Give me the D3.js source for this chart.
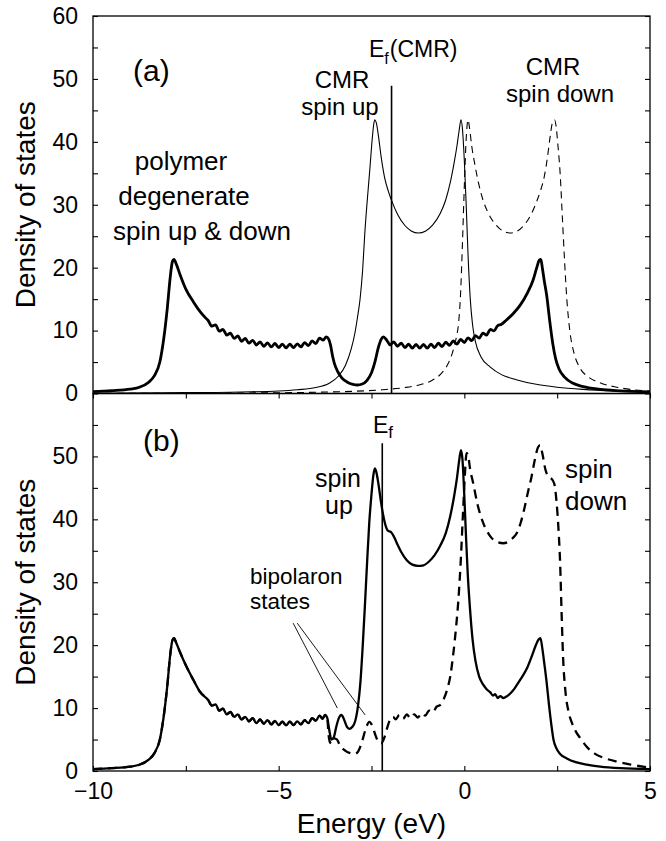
<!DOCTYPE html>
<html>
<head>
<meta charset="utf-8">
<script src="https://cdn.jsdelivr.net/npm/d3@7"></script>
<style>
  html, body { margin: 0; padding: 0; background: #fff; }
  svg text { font-family: "Liberation Sans", Arial, Helvetica, sans-serif; fill: #000; }
</style>
</head>
<body>
<svg id="chart" width="666" height="841"></svg>
<script>
// Energy axis (eV) and density-of-states axes
const energyTicks = [-10, -5, 0, 5];
const energyMinorTicks = [-10, -7.5, -5, -2.5, 0, 2.5, 5];
const dosTicksA = [0, 10, 20, 30, 40, 50, 60];
const dosTicksB = [0, 10, 20, 30, 40, 50];
const dosMinorTicks = [0, 5, 10, 15, 20, 25, 30, 35, 40, 45, 50, 55, 60];

// Fermi levels
const fermiA = -1.96;
const fermiB = -2.21;

// (a) polymer, spin degenerate: [energy, DOS]
const polymerDOS = [
  [-10,0.3],[-9.5,0.45],[-9,0.7],[-8.75,1.0],[-8.5,1.8],[-8.35,2.8],[-8.2,5.0],[-8.1,8.5],[-8.0,13.5],
  [-7.92,18.5],[-7.86,21.0],[-7.82,21.3],[-7.76,20.6],[-7.65,18.8],[-7.5,16.6],[-7.3,14.6],[-7.1,12.9],[-6.95,11.9],
  [-6.9,11.6],[-6.8,10.7],[-6.7,10.9],[-6.6,9.9],[-6.5,10.2],[-6.4,9.3],[-6.3,9.6],[-6.2,8.75],[-6.1,9.15],
  [-6.0,8.3],[-5.9,8.75],[-5.8,8.0],[-5.7,8.45],[-5.6,7.7],[-5.5,8.2],[-5.4,7.5],[-5.3,8.05],[-5.2,7.4],
  [-5.1,7.95],[-5.0,7.3],[-4.9,7.85],[-4.8,7.25],[-4.7,7.85],[-4.6,7.3],[-4.5,7.9],[-4.4,7.4],[-4.3,8.1],
  [-4.2,7.6],[-4.1,8.35],[-4.0,7.95],[-3.9,8.8],[-3.8,8.5],
  [-3.72,9.0],[-3.65,8.6],[-3.6,7.6],[-3.55,6.0],[-3.5,4.8],[-3.42,3.6],[-3.3,2.5],[-3.15,1.8],[-3.0,1.45],
  [-2.88,1.35],[-2.75,1.5],[-2.62,2.1],[-2.5,3.3],[-2.4,5.2],[-2.32,7.2],[-2.24,8.6],[-2.18,9.0],[-2.12,8.7],[-2.06,8.2],
  [-2.0,7.7],[-1.9,8.2],[-1.8,7.5],[-1.7,8.0],[-1.6,7.3],[-1.5,7.85],[-1.4,7.2],[-1.3,7.8],[-1.2,7.2],
  [-1.1,7.8],[-1.0,7.2],[-0.9,7.85],[-0.8,7.3],[-0.7,8.0],[-0.6,7.45],[-0.5,8.15],[-0.4,7.65],[-0.3,8.35],
  [-0.2,7.85],[-0.1,8.6],[0.0,8.1],[0.1,8.85],[0.2,8.4],[0.3,9.2],[0.4,8.8],[0.5,9.6],[0.6,9.3],
  [0.7,10.2],[0.8,9.95],[0.9,10.8],[1.0,11.0],
  [1.1,11.5],[1.3,12.6],[1.5,14.0],[1.7,16.0],[1.85,18.0],[1.95,20.0],[2.02,21.2],[2.06,21.3],[2.1,20.0],
  [2.15,18.0],[2.22,15.5],[2.3,11.5],[2.38,8.0],[2.46,5.5],[2.55,3.9],[2.7,2.6],[2.9,1.7],[3.2,1.1],
  [3.6,0.7],[4.0,0.5],[4.5,0.35],[5,0.25]
];

// (a) CMR spin up
const cmrUpDOS = [
  [-10,0.05],[-8,0.12],[-6,0.25],[-5,0.4],[-4.5,0.6],[-4,0.95],[-3.65,1.6],[-3.4,2.7],[-3.2,4.5],
  [-3.05,7.0],[-2.95,9.5],[-2.88,12.0],[-2.81,14.9],[-2.74,19.5],[-2.68,25.5],[-2.61,31.0],[-2.54,36.0],
  [-2.48,40.5],[-2.44,42.8],[-2.41,43.5],[-2.37,43.0],[-2.31,40.8],[-2.24,37.6],[-2.15,34.4],[-2.05,32.2],
  [-1.96,30.7],[-1.8,28.5],[-1.6,26.7],[-1.42,25.8],[-1.24,25.5],[-1.05,25.8],[-0.85,26.8],[-0.65,28.6],
  [-0.5,30.8],[-0.38,33.5],[-0.28,36.5],[-0.2,39.3],[-0.14,41.8],[-0.09,43.5],[-0.05,42.0],[0.0,37.0],
  [0.05,30.0],[0.1,22.0],[0.16,15.0],[0.22,11.0],[0.3,8.2],[0.45,5.8],[0.7,4.2],[1.0,3.0],[1.4,2.2],
  [1.9,1.5],[2.5,1.0],[3.2,0.65],[4.0,0.4],[5,0.25]
];

// (a) CMR spin down
const cmrDownDOS = [
  [-10,0.02],[-6,0.08],[-4,0.2],[-3,0.35],[-2.2,0.6],[-1.6,0.95],[-1.2,1.4],[-0.9,2.0],[-0.65,3.0],
  [-0.45,4.6],[-0.32,6.5],[-0.22,8.8],[-0.15,11.5],[-0.1,16.0],[-0.05,24.0],[0.0,33.0],[0.05,40.5],
  [0.1,43.5],[0.14,42.2],[0.2,39.3],[0.28,36.5],[0.38,33.5],[0.5,30.8],[0.65,28.6],[0.85,26.8],
  [1.05,25.8],[1.24,25.5],[1.42,25.8],[1.6,26.7],[1.8,28.5],[1.96,30.7],[2.05,32.2],[2.15,34.4],
  [2.24,37.6],[2.31,40.8],[2.37,43.0],[2.43,43.5],[2.47,42.5],[2.52,39.5],[2.58,35.0],[2.64,28.0],
  [2.7,21.0],[2.76,15.0],[2.84,10.0],[2.95,6.5],[3.1,4.2],[3.35,2.6],[3.65,1.7],[4.1,1.0],[4.55,0.6],[5,0.4]
];

// (b) spin up with bipolaron
const bipolaronUpDOS = [
  [-10,0.3],[-9.5,0.45],[-9,0.7],[-8.75,1.0],[-8.5,1.8],[-8.35,2.8],[-8.2,5.0],[-8.1,8.5],[-8.0,13.5],
  [-7.92,18.5],[-7.86,20.8],[-7.82,21.1],[-7.76,20.4],[-7.65,18.8],[-7.5,16.8],[-7.3,14.5],[-7.12,12.6],[-6.95,11.6],
  [-6.9,11.3],[-6.8,10.4],[-6.7,10.6],[-6.6,9.6],[-6.5,9.9],[-6.4,9.0],[-6.3,9.4],[-6.2,8.6],[-6.1,9.0],
  [-6.0,8.2],[-5.9,8.6],[-5.8,7.9],[-5.7,8.4],[-5.6,7.6],[-5.5,8.2],[-5.4,7.5],[-5.3,8.1],[-5.2,7.4],
  [-5.1,7.95],[-5.0,7.3],[-4.9,7.85],[-4.8,7.25],[-4.7,7.85],[-4.6,7.3],[-4.5,7.9],[-4.4,7.4],[-4.3,8.1],
  [-4.2,7.6],[-4.1,8.4],[-4.0,8.0],[-3.9,8.8],[-3.82,8.3],[-3.75,8.9],[-3.69,8.4],
  [-3.64,6.6],[-3.58,5.0],[-3.52,5.3],[-3.45,7.0],[-3.38,8.4],[-3.31,8.9],[-3.24,8.2],[-3.16,7.0],[-3.1,6.7],
  [-3.02,7.0],[-2.94,7.9],[-2.86,10.5],[-2.8,14.0],[-2.74,19.5],[-2.68,26.0],[-2.62,33.0],[-2.56,39.5],
  [-2.5,44.0],[-2.45,47.0],[-2.41,48.1],[-2.37,47.5],[-2.31,45.5],[-2.25,43.0],[-2.19,40.8],[-2.13,39.2],
  [-2.06,38.2],[-1.98,38.0],[-1.9,37.3],[-1.8,36.0],[-1.7,34.8],[-1.55,33.5],[-1.4,32.8],[-1.25,32.6],
  [-1.1,32.7],[-0.95,33.3],[-0.8,34.3],[-0.65,35.8],[-0.5,37.8],[-0.38,40.5],[-0.28,43.5],[-0.2,46.5],
  [-0.14,49.3],[-0.09,51.0],[-0.05,49.5],[-0.01,45.0],[0.04,38.0],[0.09,31.5],[0.15,26.0],[0.22,21.0],
  [0.3,17.5],[0.4,15.0],[0.5,13.8],[0.6,13.0],[0.7,12.5],[0.77,12.0],[0.83,12.2],[0.9,11.6],[0.97,11.9],
  [1.05,11.6],[1.15,11.9],[1.25,12.4],[1.35,13.1],[1.45,14.0],[1.58,15.2],[1.7,16.5],[1.82,18.3],
  [1.92,19.9],[2.0,20.9],[2.05,21.1],[2.1,19.5],[2.16,16.8],[2.22,13.9],[2.28,10.5],[2.34,7.5],[2.4,5.0],
  [2.48,3.6],[2.58,2.7],[2.76,2.0],[3.0,1.4],[3.3,1.0],[3.66,0.7],[4.2,0.45],[5,0.3]
];

// (b) spin down with bipolaron
const bipolaronDownDOS = [
  [-10,0.3],[-9.5,0.45],[-9,0.7],[-8.75,1.0],[-8.5,1.8],[-8.35,2.8],[-8.2,5.0],[-8.1,8.5],[-8.0,13.5],
  [-7.92,18.5],[-7.86,20.8],[-7.82,21.1],[-7.76,20.4],[-7.65,18.8],[-7.5,16.8],[-7.3,14.5],[-7.12,12.6],[-6.95,11.6],
  [-6.9,11.3],[-6.8,10.4],[-6.7,10.6],[-6.6,9.6],[-6.5,9.9],[-6.4,9.0],[-6.3,9.4],[-6.2,8.6],[-6.1,9.0],
  [-6.0,8.2],[-5.9,8.6],[-5.8,7.9],[-5.7,8.4],[-5.6,7.6],[-5.5,8.2],[-5.4,7.5],[-5.3,8.1],[-5.2,7.4],
  [-5.1,7.95],[-5.0,7.3],[-4.9,7.85],[-4.8,7.25],[-4.7,7.85],[-4.6,7.3],[-4.5,7.9],[-4.4,7.4],[-4.3,8.1],
  [-4.2,7.6],[-4.1,8.4],[-4.0,8.0],[-3.9,8.8],[-3.82,8.3],[-3.75,8.9],[-3.69,8.4],
  [-3.66,6.0],[-3.62,4.6],[-3.56,4.3],[-3.5,5.2],[-3.43,5.0],[-3.35,4.1],[-3.2,3.2],[-3.05,2.8],[-2.95,2.7],
  [-2.85,3.2],[-2.75,4.8],[-2.65,6.8],[-2.56,7.8],[-2.48,7.2],[-2.4,5.8],[-2.32,4.7],[-2.24,4.4],[-2.16,5.2],
  [-2.08,6.8],[-2.0,8.2],[-1.92,8.6],[-1.85,8.2],[-1.75,8.9],[-1.65,8.3],[-1.55,9.0],[-1.45,8.4],[-1.35,9.0],
  [-1.25,8.5],[-1.15,9.2],[-1.05,8.8],[-0.95,9.6],[-0.85,9.3],[-0.75,10.2],[-0.65,10.5],[-0.55,11.5],
  [-0.45,13.2],[-0.38,15.0],[-0.3,18.5],[-0.22,23.0],[-0.16,27.2],[-0.1,33.0],[-0.04,40.5],[0.01,46.5],
  [0.06,50.5],[0.1,50.2],[0.15,48.2],[0.24,45.7],[0.35,42.5],[0.51,39.4],[0.7,37.3],[0.88,36.4],[1.05,36.2],
  [1.2,36.5],[1.3,37.0],[1.41,37.8],[1.52,39.5],[1.62,41.8],[1.72,44.5],[1.8,46.5],[1.9,49.5],[1.98,51.4],
  [2.04,51.8],[2.1,50.5],[2.18,48.0],[2.26,46.8],[2.34,46.5],[2.42,45.7],[2.48,43.0],[2.53,39.0],[2.58,33.0],
  [2.62,25.0],[2.66,18.0],[2.72,12.8],[2.8,9.6],[2.9,7.6],[3.0,6.3],[3.15,5.0],[3.29,3.9],[3.5,2.8],
  [3.8,2.0],[4.1,1.5],[4.5,1.0],[5.0,0.5]
];

// Pointer lines for the bipolaron label: [[E0, DOS0], [E1, DOS1]]
const bipolaronPointers = [
  [[-4.61, 23.5], [-3.42, 10.0]],
  [[-4.50, 23.5], [-2.67, 8.9]]
];

const svg = d3.select("#chart");
const left = 93, right = 650;
const topA = 16, bottomA = 393.5, bottomB = 771;

const x = d3.scaleLinear().domain([-10, 5]).range([left, right]);
const yA = d3.scaleLinear().domain([0, 60]).range([bottomA, topA]);
const yB = d3.scaleLinear().domain([0, 60]).range([bottomB, bottomA]);

const defs = svg.append("defs");
defs.append("clipPath").attr("id", "clipA").append("rect")
  .attr("x", left).attr("y", topA).attr("width", right - left).attr("height", bottomA - topA);
defs.append("clipPath").attr("id", "clipB").append("rect")
  .attr("x", left).attr("y", bottomA).attr("width", right - left).attr("height", bottomB - bottomA);

function lineFor(y) {
  return d3.line().x(d => x(d[0])).y(d => y(d[1])).curve(d3.curveMonotoneX);
}

function drawCurve(g, data, y, width, dash) {
  g.append("path")
    .datum(data)
    .attr("d", lineFor(y))
    .attr("fill", "none")
    .attr("stroke", "#000")
    .attr("stroke-width", width)
    .attr("stroke-linejoin", "round")
    .attr("stroke-dasharray", dash || null);
}

// ---- panel (a) ----
const gA = svg.append("g").attr("clip-path", "url(#clipA)");
drawCurve(gA, cmrDownDOS, yA, 1.1, "7,5");
drawCurve(gA, cmrUpDOS, yA, 1.1);
drawCurve(gA, polymerDOS, yA, 2.8);
gA.append("line")
  .attr("x1", x(fermiA)).attr("x2", x(fermiA))
  .attr("y1", yA(48.9)).attr("y2", yA(0))
  .attr("stroke", "#000").attr("stroke-width", 1.6);

// ---- panel (b) ----
const gB = svg.append("g").attr("clip-path", "url(#clipB)");
drawCurve(gB, bipolaronDownDOS, yB, 2.3, "9,6");
drawCurve(gB, bipolaronUpDOS, yB, 2.3);
gB.append("line")
  .attr("x1", x(fermiB)).attr("x2", x(fermiB))
  .attr("y1", yB(52.1)).attr("y2", yB(0))
  .attr("stroke", "#000").attr("stroke-width", 1.6);

bipolaronPointers.forEach(p => {
  svg.append("line")
    .attr("x1", x(p[0][0])).attr("y1", yB(p[0][1]))
    .attr("x2", x(p[1][0])).attr("y2", yB(p[1][1]))
    .attr("stroke", "#000").attr("stroke-width", 0.9);
});

// ---- frames ----
[[topA, bottomA], [bottomA, bottomB]].forEach(([t, b]) => {
  svg.append("rect")
    .attr("x", left).attr("y", t).attr("width", right - left).attr("height", b - t)
    .attr("fill", "none").attr("stroke", "#000").attr("stroke-width", 1.3);
});

// ---- ticks (inward) ----
function tickAxis(axis, tx, ty) {
  const g = svg.append("g").attr("transform", `translate(${tx},${ty})`).call(axis);
  g.select(".domain").remove();
  g.selectAll(".tick line").attr("stroke", "#000").attr("stroke-width", 1.1);
  return g;
}
tickAxis(d3.axisLeft(yA).tickValues(dosMinorTicks).tickSize(-5).tickFormat(""), left, 0);
tickAxis(d3.axisRight(yA).tickValues(dosMinorTicks).tickSize(-5).tickFormat(""), right, 0);
tickAxis(d3.axisLeft(yB).tickValues(dosMinorTicks.slice(0, -1)).tickSize(-5).tickFormat(""), left, 0);
tickAxis(d3.axisRight(yB).tickValues(dosMinorTicks.slice(0, -1)).tickSize(-5).tickFormat(""), right, 0);
tickAxis(d3.axisBottom(x).tickValues(energyMinorTicks).tickSize(-5).tickFormat(""), 0, bottomB);
tickAxis(d3.axisTop(x).tickValues(energyMinorTicks).tickSize(-5).tickFormat(""), 0, bottomA);

// ---- tick labels ----
function labelAxis(axis, tx, ty) {
  const g = svg.append("g").attr("transform", `translate(${tx},${ty})`).call(axis);
  g.select(".domain").remove();
  g.selectAll(".tick line").remove();
  g.selectAll("text")
    .style("font-family", '"Liberation Sans", Arial, Helvetica, sans-serif')
    .style("font-size", "23px").attr("fill", "#000");
  return g;
}
labelAxis(d3.axisLeft(yA).tickValues(dosTicksA).tickSize(0).tickPadding(15).tickFormat(d3.format("d")), left, 0);
labelAxis(d3.axisLeft(yB).tickValues(dosTicksB).tickSize(0).tickPadding(15).tickFormat(d3.format("d")), left, 0);
labelAxis(d3.axisBottom(x).tickValues(energyTicks).tickSize(0).tickPadding(12).tickFormat(d3.format("d")), 0, bottomB);

// ---- axis titles ----
[(topA + bottomA) / 2, (bottomA + bottomB) / 2].forEach(cy => {
  svg.append("text")
    .attr("transform", `translate(35,${cy}) rotate(-90)`)
    .attr("text-anchor", "middle")
    .style("font-size", "28px")
    .text("Density of states");
});
svg.append("text")
  .attr("x", (left + right) / 2).attr("y", 833)
  .attr("text-anchor", "middle")
  .style("font-size", "28px")
  .text("Energy (eV)");

// ---- annotations ----
function label(txt, xx, yy, size, anchor) {
  svg.append("text")
    .attr("x", xx).attr("y", yy)
    .attr("text-anchor", anchor || "middle")
    .style("font-size", size + "px")
    .text(txt);
}
label("(a)", 133, 81, 30, "start");
label("(b)", 143, 451, 30, "start");

label("polymer", 181, 170, 26);
label("degenerate", 184, 205, 26);
label("spin up & down", 202, 240, 26);

label("CMR", 342, 88, 24);
label("spin up", 340, 115, 24);
label("CMR", 553, 75, 24);
label("spin down", 560, 102, 24);

// Fermi level labels
const efA = svg.append("text").attr("x", 369).attr("y", 57).style("font-size", "23px");
efA.append("tspan").text("E");
efA.append("tspan").attr("dy", 7).style("font-size", "16px").text("f");
efA.append("tspan").attr("dy", -7).attr("dx", 1).text("(CMR)");

const efB = svg.append("text").attr("x", 373).attr("y", 433).style("font-size", "23px");
efB.append("tspan").text("E");
efB.append("tspan").attr("dy", 5).style("font-size", "17px").text("f");

label("spin", 338, 487, 25);
label("up", 339, 514, 25);
label("spin", 565, 478, 26, "start");
label("down", 565, 510, 26, "start");

label("bipolaron", 250, 584, 22.5, "start");
label("states", 250, 609, 22.5, "start");
</script>
</body>
</html>
